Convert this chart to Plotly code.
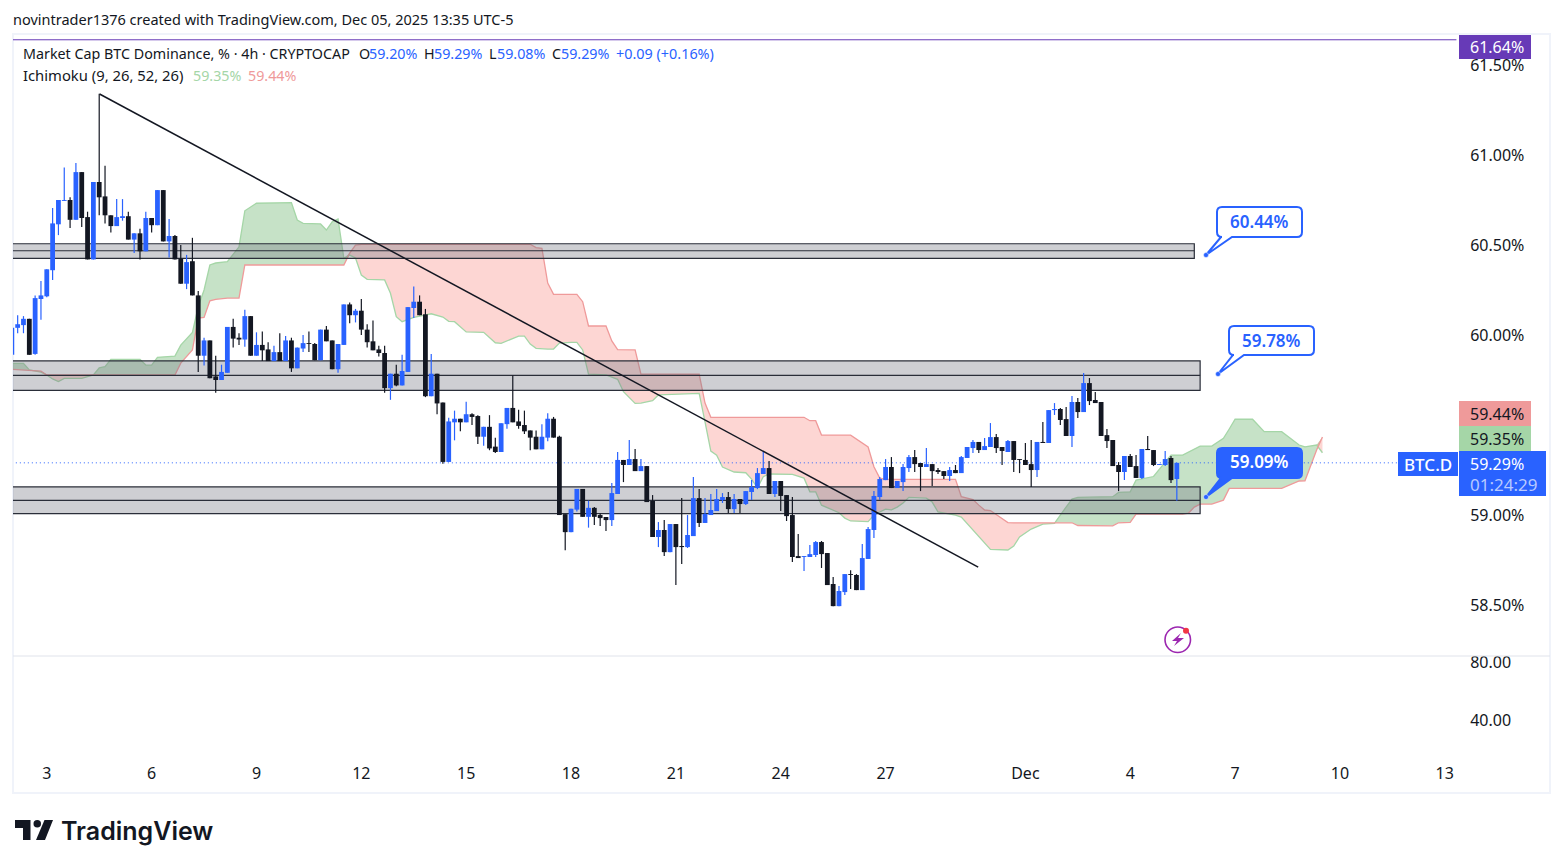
import plotly.graph_objects as go

# BTC.D 4h candles
bar_open = [59.89,60.04,60.055,60.09,59.895,60.20,60.215,60.36,60.615,60.745,60.75,60.64,60.905,60.655,60.42,60.85,60.77,60.665,60.605,60.65,
    60.66,60.53,60.565,60.465,60.65,60.61,60.805,60.52,60.55,60.425,60.285,60.41,60.22,59.885,59.97,59.77,59.75,59.79,60.045,59.985,
    59.975,60.105,59.885,59.945,59.92,59.855,59.905,59.855,59.97,59.815,59.925,59.955,59.95,59.86,60.03,59.97,59.81,59.945,60.17,60.11,
    60.135,60.03,59.965,59.92,59.90,59.705,59.785,59.72,59.795,60.15,60.185,60.115,59.66,59.785,59.625,59.295,59.515,59.535,59.515,59.56,
    59.55,59.435,59.49,59.38,59.35,59.505,59.595,59.52,59.50,59.47,59.435,59.365,59.43,59.535,59.435,59.005,58.905,59.03,59.145,58.99,
    59.04,59.00,58.989,58.972,59.117,59.306,59.278,59.311,59.244,59.272,59.078,58.878,58.917,58.794,58.95,58.828,58.822,58.883,59.094,58.956,
    59.00,59.022,59.083,59.10,59.033,59.089,59.061,59.128,59.15,59.228,59.261,59.117,59.189,59.111,59.00,58.772,58.767,58.767,58.778,58.85,
    58.789,58.617,58.494,58.572,58.672,58.667,58.583,58.756,58.917,59.10,59.194,59.267,59.15,59.183,59.261,59.322,59.289,59.267,59.283,59.25,
    59.244,59.217,59.25,59.233,59.317,59.372,59.406,59.361,59.378,59.433,59.378,59.35,59.411,59.311,59.306,59.283,59.25,59.406,59.40,59.583,
    59.589,59.533,59.439,59.628,59.572,59.733,59.639,59.628,59.444,59.417,59.278,59.239,59.328,59.272,59.206,59.367,59.361,59.278,59.278,59.317,59.20]
bar_high = [60.04,60.11,60.105,60.09,60.22,60.30,60.365,60.705,60.75,60.93,60.765,60.955,60.905,60.685,60.85,61.34,60.94,60.665,60.755,60.755,
    60.685,60.565,60.59,60.685,60.65,60.805,60.805,60.645,60.555,60.50,60.445,60.54,60.245,59.985,59.97,59.885,59.835,60.045,60.09,60.01,
    60.14,60.105,60.015,60.02,59.96,59.94,60.01,59.995,59.985,59.93,60.0,60.02,59.955,60.03,60.05,59.97,59.95,60.17,60.18,60.145,
    60.20,60.06,60.08,59.94,59.94,59.785,59.835,59.89,60.155,60.27,60.22,60.145,59.895,59.785,59.625,59.54,59.58,59.535,59.63,59.565,
    59.555,59.49,59.555,59.43,59.51,59.595,59.775,59.585,59.58,59.47,59.47,59.505,59.565,59.545,59.44,59.005,59.035,59.145,59.145,59.08,
    59.045,59.009,58.989,59.178,59.35,59.306,59.417,59.367,59.311,59.272,59.111,58.961,58.972,58.95,58.95,59.094,59.0,59.211,59.144,59.094,
    59.117,59.144,59.122,59.128,59.117,59.089,59.133,59.194,59.261,59.356,59.30,59.189,59.189,59.111,59.10,58.894,58.772,58.833,58.856,58.856,
    58.789,58.656,58.606,58.672,58.694,58.672,58.839,58.933,59.133,59.211,59.311,59.322,59.189,59.283,59.333,59.361,59.289,59.372,59.283,59.261,
    59.244,59.267,59.278,59.328,59.378,59.417,59.406,59.428,59.511,59.45,59.378,59.417,59.411,59.311,59.40,59.417,59.406,59.517,59.583,59.622,
    59.594,59.60,59.661,59.65,59.789,59.761,59.683,59.628,59.478,59.417,59.294,59.328,59.339,59.333,59.367,59.439,59.361,59.283,59.356,59.328,59.29]
bar_low = [59.89,60.01,60.01,59.89,59.89,60.085,60.21,60.305,60.555,60.745,60.595,60.64,60.60,60.42,60.42,60.665,60.62,60.57,60.605,60.635,
    60.53,60.455,60.42,60.465,60.57,60.61,60.52,60.43,60.42,60.285,60.255,60.22,59.795,59.83,59.76,59.68,59.75,59.79,59.93,59.945,
    59.935,59.885,59.885,59.855,59.855,59.855,59.855,59.855,59.795,59.815,59.905,59.905,59.86,59.86,59.965,59.81,59.79,59.945,60.065,60.07,
    60.0,59.93,59.915,59.88,59.68,59.64,59.715,59.72,59.795,60.095,60.11,59.655,59.66,59.56,59.285,59.295,59.415,59.465,59.515,59.50,
    59.395,59.385,59.36,59.345,59.35,59.48,59.515,59.48,59.45,59.36,59.365,59.365,59.41,59.43,59.0,58.805,58.905,59.02,58.99,58.93,
    58.945,58.939,58.911,58.939,59.117,59.183,59.278,59.244,59.244,59.072,58.878,58.822,58.772,58.794,58.611,58.728,58.817,58.883,58.933,58.956,
    59.0,59.022,59.067,59.011,59.011,59.011,59.056,59.083,59.144,59.228,59.117,59.10,59.022,58.967,58.739,58.761,58.689,58.767,58.767,58.706,
    58.611,58.494,58.494,58.556,58.589,58.583,58.583,58.756,58.872,59.083,59.194,59.15,59.15,59.133,59.239,59.239,59.133,59.267,59.161,59.228,
    59.20,59.189,59.233,59.233,59.317,59.344,59.344,59.361,59.378,59.344,59.278,59.35,59.239,59.233,59.278,59.156,59.211,59.40,59.40,59.556,
    59.50,59.439,59.378,59.539,59.572,59.611,59.622,59.439,59.372,59.272,59.133,59.194,59.267,59.206,59.20,59.361,59.272,59.278,59.272,59.178,59.08]
bar_close = [60.04,60.06,60.09,59.89,60.205,60.22,60.365,60.62,60.75,60.75,60.64,60.905,60.65,60.42,60.85,60.765,60.665,60.605,60.655,60.66,
    60.53,60.565,60.465,60.65,60.61,60.805,60.52,60.55,60.42,60.285,60.405,60.22,59.885,59.97,59.76,59.75,59.795,60.045,59.98,59.975,
    60.105,59.885,59.945,59.915,59.855,59.905,59.855,59.97,59.815,59.93,59.955,59.95,59.86,60.03,59.965,59.81,59.95,60.17,60.11,60.135,
    60.03,59.96,59.915,59.90,59.705,59.785,59.72,59.80,60.155,60.185,60.11,59.66,59.785,59.62,59.295,59.52,59.535,59.515,59.56,59.545,
    59.435,59.49,59.37,59.35,59.51,59.595,59.515,59.495,59.465,59.43,59.365,59.435,59.535,59.43,59.0,58.905,59.035,59.145,58.99,59.04,
    58.99,58.983,58.972,59.122,59.306,59.278,59.311,59.244,59.272,59.072,58.878,58.917,58.794,58.95,58.822,58.822,58.889,59.094,58.956,59.006,
    59.028,59.089,59.10,59.033,59.089,59.061,59.133,59.156,59.233,59.261,59.117,59.189,59.106,58.994,58.767,58.761,58.772,58.783,58.85,58.783,
    58.611,58.494,58.578,58.672,58.667,58.583,58.761,58.922,59.106,59.20,59.267,59.15,59.189,59.267,59.322,59.283,59.267,59.283,59.244,59.239,
    59.217,59.25,59.233,59.322,59.378,59.406,59.361,59.383,59.433,59.372,59.356,59.411,59.306,59.306,59.278,59.25,59.406,59.40,59.583,59.589,
    59.528,59.439,59.628,59.572,59.733,59.633,59.622,59.439,59.411,59.272,59.239,59.328,59.267,59.206,59.367,59.361,59.278,59.283,59.311,59.194,59.29]

# Ichimoku leading spans at the bars where they bend
span_bar = [0,2,3,5,6,7,8,9,12,14,15,16,17,22,23,24,25,28,29,31,32,33,34,35,37,39,40,42,48,49,50,53,54,55,56,57,58,59,60,61,64,65,66,67,69,72,74,75,76,78,
    81,83,84,87,88,89,90,91,92,93,94,96,97,98,99,102,103,104,105,106,107,108,110,111,118,119,120,121,122,124,126,127,128,129,130,134,136,137,138,139,142,143,144,147,148,149,
    150,151,152,153,154,157,158,159,162,163,165,166,167,168,171,172,173,175,177,179,180,182,183,189,190,192,193,196,198,199,201,202,203,204,206,208,209,210,213,215,218,221,222,224,225]
span_a = [59.843,59.843,59.806,59.794,59.778,59.756,59.741,59.759,59.759,59.778,59.817,59.824,59.865,59.865,59.833,59.833,59.876,59.883,59.944,60.015,60.157,60.25,60.389,60.4,60.407,60.49,60.69,60.732,60.735,60.639,60.62,60.617,60.583,60.629,60.644,60.426,60.444,60.428,60.333,60.309,60.306,60.232,60.102,60.074,60.098,60.118,60.1,60.076,60.074,60.017,
    60.015,59.957,59.954,59.994,59.994,59.95,59.926,59.922,59.922,59.922,59.955,59.959,59.959,59.917,59.783,59.779,59.767,59.754,59.685,59.655,59.62,59.622,59.635,59.667,59.676,59.517,59.355,59.333,59.267,59.239,59.235,59.2,59.15,59.213,59.228,59.226,59.205,59.129,59.129,59.055,59.013,58.983,58.967,58.963,59.0,59.017,
    59.033,59.029,59.044,59.067,59.098,59.094,59.072,59.017,59.0,58.989,58.917,58.878,58.844,58.809,58.806,58.828,58.878,58.922,58.95,58.954,59.0,59.089,59.098,59.102,59.126,59.129,59.194,59.214,59.294,59.333,59.333,59.35,59.367,59.383,59.383,59.426,59.478,59.532,59.532,59.463,59.463,59.389,59.379,59.389,59.346]
span_b = [59.809,59.806,59.802,59.80,59.778,59.778,59.778,59.778,59.778,59.778,59.778,59.778,59.778,59.778,59.778,59.778,59.778,59.778,59.844,59.917,60.094,60.098,60.19,60.198,60.205,60.205,60.389,60.389,60.389,60.389,60.389,60.389,60.389,60.389,60.389,60.389,60.455,60.5,60.504,60.504,60.504,60.504,60.504,60.504,60.504,60.504,60.504,60.504,60.504,60.504,
    60.504,60.504,60.504,60.504,60.504,60.504,60.486,60.482,60.289,60.226,60.226,60.226,60.226,60.185,60.05,60.05,59.967,59.919,59.917,59.917,59.917,59.783,59.783,59.783,59.782,59.622,59.543,59.543,59.543,59.543,59.543,59.543,59.543,59.543,59.543,59.543,59.543,59.524,59.524,59.444,59.444,59.444,59.444,59.378,59.268,59.205,
    59.198,59.198,59.198,59.198,59.198,59.198,59.198,59.198,59.198,59.102,59.086,59.055,59.028,59.025,58.958,58.957,58.957,58.957,58.957,58.957,58.957,58.957,58.942,58.94,58.957,58.959,59.005,59.005,59.005,59.005,59.005,59.011,59.044,59.061,59.061,59.083,59.148,59.148,59.148,59.148,59.148,59.189,59.19,59.361,59.433]

# drawn zones: low, mid, high, bar where it stops
zone_low = [60.426,59.693,59.008]
zone_mid = [60.468,59.776,59.082]
zone_high = [60.507,59.856,59.156]
zone_end = [203,204,204]

# trend line
trend_bar = [15.06,165.9]
trend_price = [61.339,58.711]

last_price = 59.29
high_line = 61.64
lower_pane = [80,40]

price_ticks = [58.5,59.0,59.5,60.0,60.5,61.0,61.5]
price_labels = ["58.50%","59.00%","","60.00%","60.50%","61.00%","61.50%"]
day_ticks = [6,24,42,60,78,96,114,132,150,174,192,210,228,246]
day_labels = ["3","6","9","12","15","18","21","24","27","Dec","4","7","10","13"]

BLUE = "#2962ff"
BLACK = "#131722"
GREEN_LINE = "#a5d6a7"
RED_LINE = "#ef9a9a"
FONT = "Noto Sans"

# pane edges on the page
LEFT, RIGHT, TOP, SEP, BOTTOM = 13, 1458, 36, 656, 758


def px(x):
    return (x - LEFT) / (RIGHT - LEFT)


def py(y):
    return (BOTTOM - y) / (BOTTOM - TOP)


def callout(x0, y0, x1, y1, tipx, tipy, r=5):
    pts = [f"M{px(x0+r)},{py(y0)}", f"L{px(x1-r)},{py(y0)}", f"Q{px(x1)},{py(y0)} {px(x1)},{py(y0+r)}",
           f"L{px(x1)},{py(y1-r)}", f"Q{px(x1)},{py(y1)} {px(x1-r)},{py(y1)}",
           f"L{px(x0+15)},{py(y1)}", f"L{px(tipx)},{py(tipy)}", f"L{px(x0+4)},{py(y1)}",
           f"L{px(x0+r)},{py(y1)}", f"Q{px(x0)},{py(y1)} {px(x0)},{py(y1-r)}",
           f"L{px(x0)},{py(y0+r)}", f"Q{px(x0)},{py(y0)} {px(x0+r)},{py(y0)}", "Z"]
    return "".join(pts)


def poly(points):
    return "M" + "L".join(f"{px(a)},{py(b)}" for a, b in points) + "Z"


fig = go.Figure()

# cloud
span_top = [max(a, b) for a, b in zip(span_a, span_b)]
for lower, fill in [(span_a, "rgba(244,67,54,0.22)"), (span_b, "rgba(67,160,71,0.3)")]:
    fig.add_trace(go.Scatter(x=span_bar, y=lower, mode="lines", line=dict(width=0), showlegend=False, hoverinfo="skip"))
    fig.add_trace(go.Scatter(x=span_bar, y=span_top, mode="lines", line=dict(width=0), fill="tonexty",
                             fillcolor=fill, showlegend=False, hoverinfo="skip"))
fig.add_trace(go.Scatter(x=span_bar, y=span_a, mode="lines", line=dict(color=GREEN_LINE, width=1.3), showlegend=False))
fig.add_trace(go.Scatter(x=span_bar, y=span_b, mode="lines", line=dict(color=RED_LINE, width=1.3), showlegend=False))

# zones
for lo, mid, hi, end in zip(zone_low, zone_mid, zone_high, zone_end):
    fig.add_trace(go.Scatter(x=[-2, end, end, -2, -2], y=[lo, lo, hi, hi, lo], mode="lines", fill="toself",
                             fillcolor="rgba(120,123,134,0.36)", line=dict(color="#2a2e39", width=1.2), showlegend=False))
    fig.add_trace(go.Scatter(x=[-2, end], y=[mid, mid], mode="lines", line=dict(color="#2a2e39", width=1.2), showlegend=False))

# last price
fig.add_trace(go.Scatter(x=[0, 238], y=[last_price, last_price], mode="lines",
                         line=dict(color=BLUE, width=1, dash="1px 3px"), showlegend=False))

# candles
for up, color in [(True, BLUE), (False, BLACK)]:
    wick_x, wick_y, body_x, body_y = [], [], [], []
    for i, (o, h, l, c) in enumerate(zip(bar_open, bar_high, bar_low, bar_close)):
        if (c >= o) != up:
            continue
        wick_x += [i, i, None]
        wick_y += [l, h, None]
        body_x += [i, i, None]
        body_y += [o, c, None]
    fig.add_trace(go.Scatter(x=wick_x, y=wick_y, mode="lines", line=dict(color=color, width=1.2), showlegend=False, connectgaps=False))
    fig.add_trace(go.Scatter(x=body_x, y=body_y, mode="lines", line=dict(color=color, width=4.8), showlegend=False, connectgaps=False))

fig.add_trace(go.Scatter(x=trend_bar, y=trend_price, mode="lines", line=dict(color=BLACK, width=1.5), showlegend=False))
fig.add_trace(go.Scatter(x=[0, 248], y=[high_line, high_line], mode="lines", line=dict(color="#673ab7", width=1), showlegend=False))

# empty lower pane
fig.add_trace(go.Scatter(x=[0, 0], y=lower_pane, yaxis="y2", mode="markers", marker=dict(opacity=0), showlegend=False))

shapes = [
    dict(type="rect", xref="paper", yref="paper", x0=px(13), x1=px(1550), y0=py(34), y1=py(793),
         line=dict(color="#f0f3fa", width=2), layer="below"),
    dict(type="line", xref="paper", yref="paper", x0=px(13), x1=px(1550), y0=py(SEP), y1=py(SEP),
         line=dict(color="#e0e3eb", width=1)),
]

# callouts
for box, fill in [((1217, 207, 1302, 237, 1206, 255), "white"),
                  ((1229, 326, 1314, 355, 1218, 374), "white"),
                  ((1217, 448, 1302, 478, 1206, 497), BLUE)]:
    shapes.append(dict(type="path", xref="paper", yref="paper", path=callout(*box), fillcolor=fill,
                       line=dict(color=BLUE, width=2)))
    tx, ty = box[4], box[5]
    shapes.append(dict(type="circle", xref="paper", yref="paper", x0=px(tx-2.5), x1=px(tx+2.5), y0=py(ty-2.5), y1=py(ty+2.5),
                       fillcolor=BLUE, line=dict(color="white", width=0.5)))

# price tags
for x0, x1, y0, y1, color in [(1459, 1531, 35, 59, "#673ab7"), (1459, 1531, 401, 426, RED_LINE),
                              (1459, 1531, 426, 451, GREEN_LINE), (1459, 1546, 451, 496, BLUE),
                              (1398, 1458, 452, 476, BLUE)]:
    shapes.append(dict(type="rect", xref="paper", yref="paper", x0=px(x0), x1=px(x1), y0=py(y0), y1=py(y1),
                       fillcolor=color, line=dict(width=0)))

# lightning badge
shapes.append(dict(type="circle", xref="paper", yref="paper", x0=px(1165), x1=px(1190.5), y0=py(627), y1=py(652.5),
                   line=dict(color="#9c27b0", width=1.6)))
shapes.append(dict(type="path", xref="paper", yref="paper", line=dict(width=0), fillcolor="#9c27b0",
                   path=poly([(1181, 633), (1172, 641), (1177, 641), (1174, 646), (1184, 638), (1178, 638)])))
shapes.append(dict(type="circle", xref="paper", yref="paper", x0=px(1183), x1=px(1189), y0=py(627.7), y1=py(633.7),
                   fillcolor="#f23645", line=dict(width=0)))

# TradingView mark
shapes.append(dict(type="path", xref="paper", yref="paper", line=dict(width=0), fillcolor=BLACK,
                   path=poly([(15, 820), (30.5, 820), (30.5, 840), (23, 840), (23, 828), (15, 828)])))
shapes.append(dict(type="circle", xref="paper", yref="paper", x0=px(33.5), x1=px(41), y0=py(820), y1=py(827.5),
                   fillcolor=BLACK, line=dict(width=0)))
shapes.append(dict(type="path", xref="paper", yref="paper", line=dict(width=0), fillcolor=BLACK,
                   path=poly([(44.5, 820), (53, 820), (45, 840), (36, 840)])))

texts = [
    (12, 19, "novintrader1376 created with TradingView.com, Dec 05, 2025 13:35 UTC-5", BLACK, 14.5, "left", "normal"),
    (22, 54, "Market Cap BTC Dominance, % · 4h · CRYPTOCAP", BLACK, 14.3, "left", "normal"),
    (358, 54, "O", BLACK, 14.3, "left", "normal"), (368, 54, "59.20%", BLUE, 14.3, "left", "normal"),
    (423, 54, "H", BLACK, 14.3, "left", "normal"), (433, 54, "59.29%", BLUE, 14.3, "left", "normal"),
    (488, 54, "L", BLACK, 14.3, "left", "normal"), (496, 54, "59.08%", BLUE, 14.3, "left", "normal"),
    (551, 54, "C", BLACK, 14.3, "left", "normal"), (560, 54, "59.29%", BLUE, 14.3, "left", "normal"),
    (615, 54, "+0.09 (+0.16%)", BLUE, 14.4, "left", "normal"),
    (22, 75, "Ichimoku (9, 26, 52, 26)", BLACK, 14.8, "left", "normal"),
    (192, 75, "59.35%", GREEN_LINE, 14.3, "left", "normal"), (247, 75, "59.44%", RED_LINE, 14.3, "left", "normal"),
    (1259.5, 221, "60.44%", BLUE, 17, "center", 600), (1271.5, 340, "59.78%", BLUE, 17, "center", 600),
    (1259.5, 462, "59.09%", "white", 17, "center", 600),
    (1469, 47, "61.64%", "white", 16, "left", "normal"), (1469, 414, "59.44%", BLACK, 16, "left", "normal"),
    (1469, 439, "59.35%", BLACK, 16, "left", "normal"), (1469, 464, "59.29%", "white", 16, "left", "normal"),
    (1469, 484, "01:24:29", "#b8c9ff", 17, "left", "normal"), (1428, 464, "BTC.D", "white", 17, "center", 500),
    (60, 831, "TradingView", BLACK, 25, "left", 600),
]
annotations = []
for x, y, text, color, size, anchor, weight in texts:
    annotations.append(dict(x=px(x), y=py(y), xref="paper", yref="paper", text=text, showarrow=False,
                            xanchor=anchor, yanchor="middle", borderpad=0,
                            font=dict(family="Inter" if text == "TradingView" else FONT, size=size, color=color, weight=weight)))

fig.update_layout(
    width=1563, height=868, margin=dict(l=LEFT, r=1563-RIGHT, t=TOP, b=868-BOTTOM),
    paper_bgcolor="white", plot_bgcolor="white", showlegend=False,
    font=dict(family=FONT, size=16, color=BLACK),
    xaxis=dict(range=[0.2, 248.27], anchor="y2", tickvals=day_ticks, ticktext=day_labels, showgrid=False,
               zeroline=False, showline=False, ticks="outside", ticklen=1, tickcolor="white", tickfont=dict(size=16, color=BLACK)),
    yaxis=dict(domain=[py(SEP), 1], range=[58.217, 61.661], side="right", tickvals=price_ticks, ticktext=price_labels,
               showgrid=False, zeroline=False, showline=False, ticks="outside", ticklen=8, tickcolor="rgba(0,0,0,0)",
               tickfont=dict(size=16, color=BLACK)),
    yaxis2=dict(domain=[0, py(SEP)], range=[13.8, 84.14], side="right", tickvals=lower_pane, ticktext=["80.00", "40.00"],
                showgrid=False, zeroline=False, showline=False, ticks="outside", ticklen=8, tickcolor="rgba(0,0,0,0)",
                tickfont=dict(size=16, color=BLACK), anchor="x"),
    shapes=shapes, annotations=annotations,
)

fig.write_html("out.html", config=dict(displayModeBar=False),
               post_script="document.body.style.margin='0';document.body.style.overflow='hidden';")
